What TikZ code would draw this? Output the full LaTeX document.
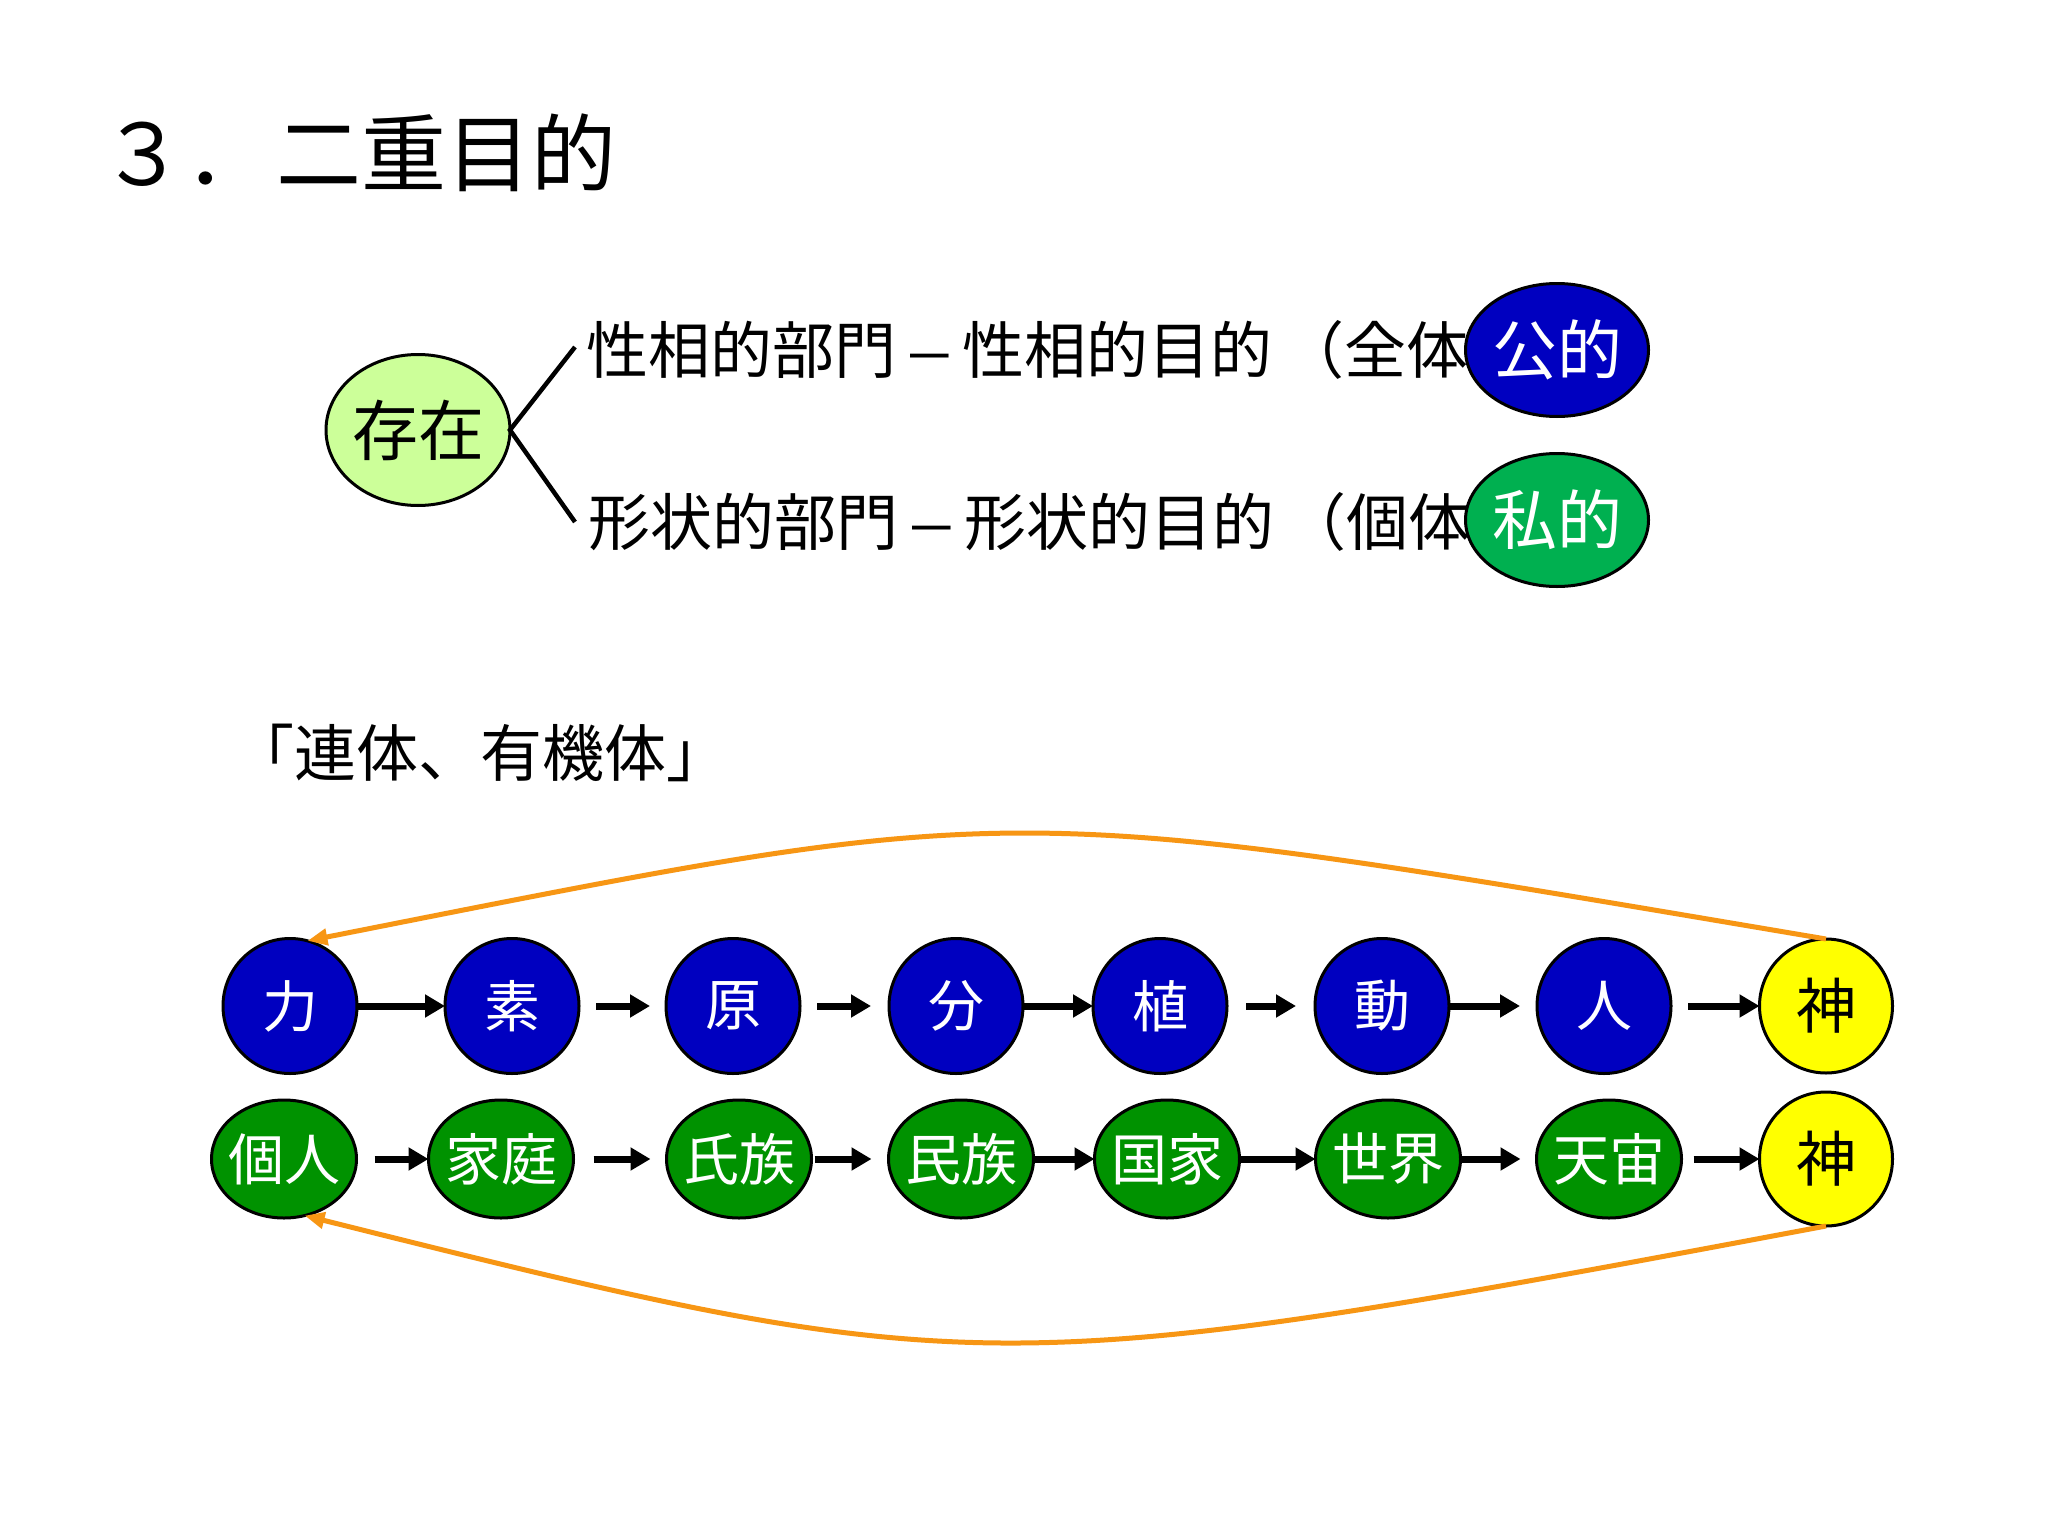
\documentclass[tikz,border=0pt]{standalone}
\usepackage{fontspec}
\newfontfamily\jp{Noto Sans CJK JP}
\usetikzlibrary{shapes.geometric,arrows.meta}
\definecolor{nodeblue}{RGB}{0,0,192}
\definecolor{nodegreen}{RGB}{0,146,0}
\definecolor{privgreen}{RGB}{0,176,80}
\definecolor{lightgreen}{RGB}{204,255,153}
\definecolor{orangeline}{RGB}{247,150,20}
\definecolor{yellowfill}{RGB}{255,255,0}
\begin{document}
\begin{tikzpicture}[x=1pt,y=-1pt,
  oval/.style={ellipse, draw=black, line width=3pt, inner sep=0pt, outer sep=0pt},
  blueball/.style={oval, fill=nodeblue, text=white, minimum width=134pt, minimum height=135pt, font=\jp\fontsize{56}{60}\selectfont},
  greenball/.style={oval, fill=nodegreen, text=white, minimum width=145pt, minimum height=118pt, font=\jp\fontsize{56}{60}\selectfont},
  godball/.style={oval, fill=yellowfill, text=black, minimum width=133pt, minimum height=134pt, font=\jp\fontsize{60}{64}\selectfont},
  flow/.style={line width=7pt, -{Triangle[length=20pt,width=22pt]}},
  back/.style={draw=orangeline, line width=5pt, -{Triangle[length=20pt,width=16pt]}},
  plain/.style={anchor=west, inner sep=0pt, text=black},
]
\fill[white] (0,0) rectangle (2048,1536);
\useasboundingbox (0,0) rectangle (2048,1536);

% title
\node[plain, font=\jp\fontsize{85}{90}\selectfont] (title) at (100,153) {３．\hspace{6pt}二重目的};

% existence branch
\node[oval, fill=lightgreen, minimum width=184pt, minimum height=151pt, font=\jp\fontsize{66}{70}\selectfont] (sonzai) at (418,430) {\makebox[0pt]{存在}};
\node[plain, font=\jp\fontsize{62}{66}\selectfont] (line1) at (586,350) {性相的部門\hspace{10pt}\scalebox{1.4}[1]{–}\hspace{10pt}性相的目的\hspace{10pt}（全体};
\node[plain, font=\jp\fontsize{62}{66}\selectfont] (line2) at (588,522) {形状的部門\hspace{10pt}\scalebox{1.4}[1]{–}\hspace{10pt}形状的目的\hspace{10pt}（個体};
\node[oval, fill=nodeblue, text=white, minimum width=183pt, minimum height=133pt, font=\jp\fontsize{65}{70}\selectfont] (kou) at (1557,350) {\makebox[0pt]{公的}};
\node[oval, fill=privgreen, text=white, minimum width=183pt, minimum height=133pt, font=\jp\fontsize{65}{70}\selectfont] (shi) at (1557,520) {\makebox[0pt]{私的}};
\coordinate (b1) at (575,347);
\coordinate (b2) at (575,522);
\draw[line width=4.5pt] (b1) -- (sonzai.east) -- (b2);

% subtitle
\node[plain, font=\jp\fontsize{62}{66}\selectfont] (sub) at (232,753) {「連体、有機体」};

% top row
\node[blueball] (chikara) at (290,1006) {\makebox[0pt]{力}};
\node[blueball] (so) at (512,1006) {\makebox[0pt]{素}};
\node[blueball] (gen) at (733,1006) {\makebox[0pt]{原}};
\node[blueball] (bun) at (956,1006) {\makebox[0pt]{分}};
\node[blueball] (shoku) at (1160,1006) {\makebox[0pt]{植}};
\node[blueball] (dou) at (1382,1006) {\makebox[0pt]{動}};
\node[blueball] (hito) at (1604,1006) {\makebox[0pt]{人}};
\node[godball] (kami1) at (1826,1006) {\makebox[0pt]{神}};

% bottom row
\node[greenball] (kojin) at (284,1159) {\makebox[0pt]{個人}};
\node[greenball] (katei) at (501,1159) {\makebox[0pt]{家庭}};
\node[greenball] (shizoku) at (739,1159) {\makebox[0pt]{氏族}};
\node[greenball] (minzoku) at (961,1159) {\makebox[0pt]{民族}};
\node[greenball] (kokka) at (1167,1159) {\makebox[0pt]{国家}};
\node[greenball] (sekai) at (1388,1159) {\makebox[0pt]{世界}};
\node[greenball] (uchu) at (1609,1159) {\makebox[0pt]{天宙}};
\node[godball] (kami2) at (1826,1159) {\makebox[0pt]{神}};

% top row arrows
\draw[flow] (chikara) -- (so);
\draw[flow, shorten <=17pt, shorten >=16pt] (so) -- (gen);
\draw[flow, shorten <=17pt, shorten >=18pt] (gen) -- (bun);
\draw[flow] (bun) -- (shoku);
\draw[flow, shorten <=19pt, shorten >=19pt] (shoku) -- (dou);
\draw[flow, shorten >=17pt] (dou) -- (hito);
\draw[flow, shorten <=17pt] (hito) -- (kami1);

% bottom row arrows
\draw[flow, shorten <=18pt] (kojin) -- (katei);
\draw[flow, shorten <=20pt, shorten >=16pt] (katei) -- (shizoku);
\draw[flow, shorten <=3pt, shorten >=17pt] (shizoku) -- (minzoku);
\draw[flow] (minzoku) -- (kokka);
\draw[flow] (kokka) -- (sekai);
\draw[flow, shorten >=16pt] (sekai) -- (uchu);
\draw[flow, shorten <=12pt] (uchu) -- (kami2);

% return curves
\draw[back] (kami1.north) .. controls (990,798) and (1030,798) .. (chikara.75);
\draw[back] (kami2.south) .. controls (990,1383) and (975,1383) .. (kojin.-70);
\end{tikzpicture}
\end{document}
